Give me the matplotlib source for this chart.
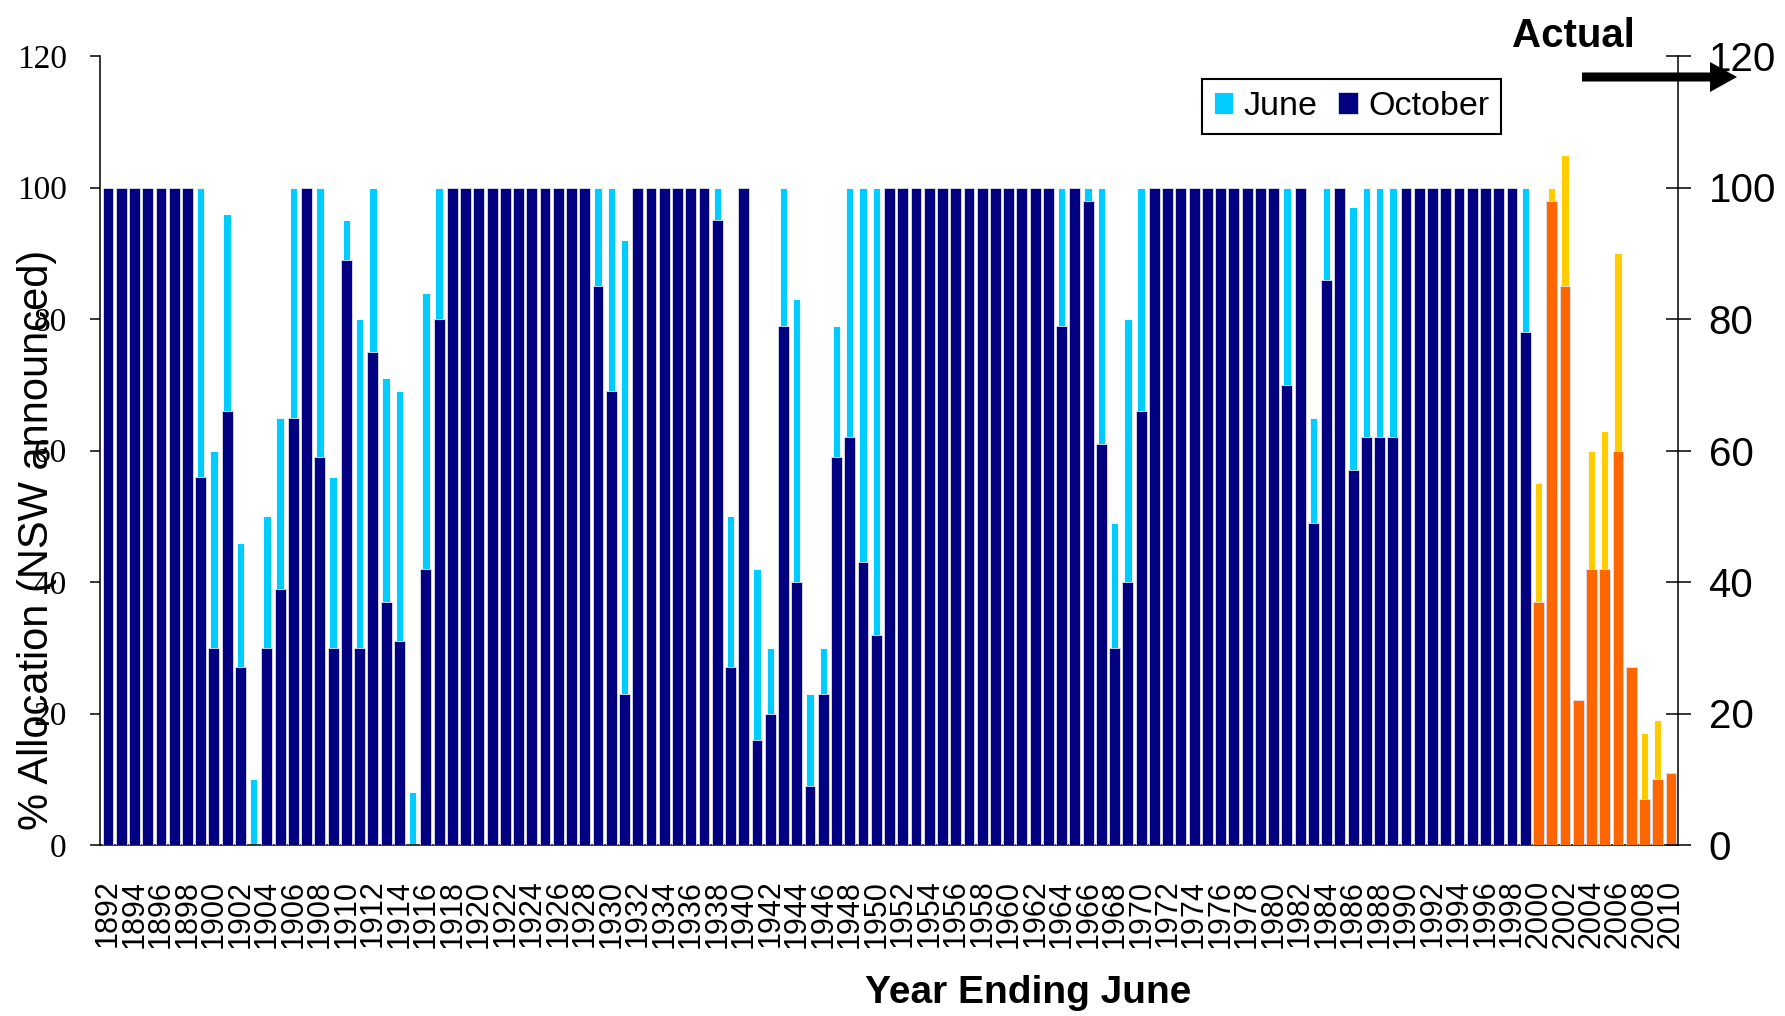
import numpy as np
import matplotlib.pyplot as plt

years = np.arange(1892, 2011)

# June announced allocation (%) (hidden ones = October)
june = [100, 100, 100, 100, 100, 100, 100, 100, 60, 96,
        46, 10, 50, 65, 100, 100, 100, 56, 95, 80,
        100, 71, 69, 8, 84, 100, 100, 100, 100, 100,
        100, 100, 100, 100, 100, 100, 100, 100, 100, 92,
        100, 100, 100, 100, 100, 100, 100, 50, 100, 42,
        30, 100, 83, 23, 30, 79, 100, 100, 100, 100,
        100, 100, 100, 100, 100, 100, 100, 100, 100, 100,
        100, 100, 100, 100, 100, 100, 49, 80, 100, 100,
        100, 100, 100, 100, 100, 100, 100, 100, 100, 100,
        100, 65, 100, 100, 97, 100, 100, 100, 100, 100,
        100, 100, 100, 100, 100, 100, 100, 100, 55, 100,
        105, 22, 60, 63, 90, 27, 17, 19, 11]

# October announced allocation (%)
october = [100, 100, 100, 100, 100, 100, 100, 56, 30, 66,
           27, 0, 30, 39, 65, 100, 59, 30, 89, 30,
           75, 37, 31, 0, 42, 80, 100, 100, 100, 100,
           100, 100, 100, 100, 100, 100, 100, 85, 69, 23,
           100, 100, 100, 100, 100, 100, 95, 27, 100, 16,
           20, 79, 40, 9, 23, 59, 62, 43, 32, 100,
           100, 100, 100, 100, 100, 100, 100, 100, 100, 100,
           100, 100, 79, 100, 98, 61, 30, 40, 66, 100,
           100, 100, 100, 100, 100, 100, 100, 100, 100, 70,
           100, 49, 86, 100, 57, 62, 62, 62, 100, 100,
           100, 100, 100, 100, 100, 100, 100, 78, 37, 98,
           85, 22, 42, 42, 60, 27, 7, 10, 11]

dark = '#000080'
light = '#00CCFF'
orange = '#FF6600'
yellow = '#FFCC00'

actual = years >= 2000
x = np.arange(len(years))

W, H = 1785, 1016
fig = plt.figure(figsize=(W / 100, H / 100), dpi=100)
ax = fig.add_axes([100 / W, 1 - 845 / H, 1578 / W, 789 / H])

ax.bar(x, june, width=0.56, color=np.where(actual, yellow, light),
       edgecolor='white', linewidth=0.6, label='June', zorder=2)
ax.bar(x, october, width=0.82, color=np.where(actual, orange, dark),
       edgecolor='#e0e0f0', linewidth=0.6, label='October', zorder=3)

ax.set_xlim(-0.6, len(years) - 0.47)
ax.set_ylim(0, 120)
ax.set_yticks(range(0, 121, 20))
ax.tick_params(axis='y', direction='out', length=7, width=1.1, pad=17,
               labelsize=24, labelfontfamily='Liberation Serif')
ax.set_xticks(x[::2])
ax.set_xticklabels(years[::2], rotation=90, fontsize=22,
                   family='Liberation Sans')
ax.tick_params(axis='x', length=0, pad=25)
for s in ['top', 'right']:
    ax.spines[s].set_visible(False)
ax.spines['left'].set_linewidth(1.1)
ax.spines['bottom'].set_linewidth(1.1)

# right hand axis
ax2 = ax.twinx()
ax2.set_ylim(0, 120)
ax2.set_yticks(range(0, 121, 20))
ax2.tick_params(axis='y', direction='inout', length=18, width=1.1, pad=13,
                labelsize=29, labelfontfamily='Liberation Sans')
for s in ['top', 'left', 'bottom']:
    ax2.spines[s].set_visible(False)
ax2.spines['right'].set_linewidth(1.1)

leg = ax.legend(loc='center', bbox_to_anchor=(0.793, 0.936), ncol=2,
                prop={'family': 'Liberation Sans', 'size': 24.5},
                handlelength=0.58, handleheight=0.65, handletextpad=0.3,
                columnspacing=0.6, borderpad=0.35, fancybox=False,
                framealpha=1, edgecolor='black')
leg.get_frame().set_linewidth(1.5)

fig.text(0.021, 0.469, '% Allocation (NSW announced)', rotation=90,
         ha='center', va='center', fontsize=30, family='Liberation Sans')
fig.text(0.576, 1 - 993 / H, 'Year Ending June', ha='center', va='center',
         fontsize=28, fontweight='bold', family='Liberation Sans')
fig.text(1573 / W, 1 - 36 / H, 'Actual', ha='center', va='center',
         fontsize=29, fontweight='bold', family='Liberation Sans')

ax2.annotate('', xy=(1737 / W, 1 - 77 / H), xytext=(1582 / W, 1 - 77 / H),
             xycoords='figure fraction', textcoords='figure fraction',
             arrowprops=dict(arrowstyle='simple,head_length=1.94,head_width=2.16,tail_width=0.65',
                             mutation_scale=10, color='black', lw=0,
                             shrinkA=0, shrinkB=0),
             annotation_clip=False)

fig.savefig('out.png', dpi=100)
